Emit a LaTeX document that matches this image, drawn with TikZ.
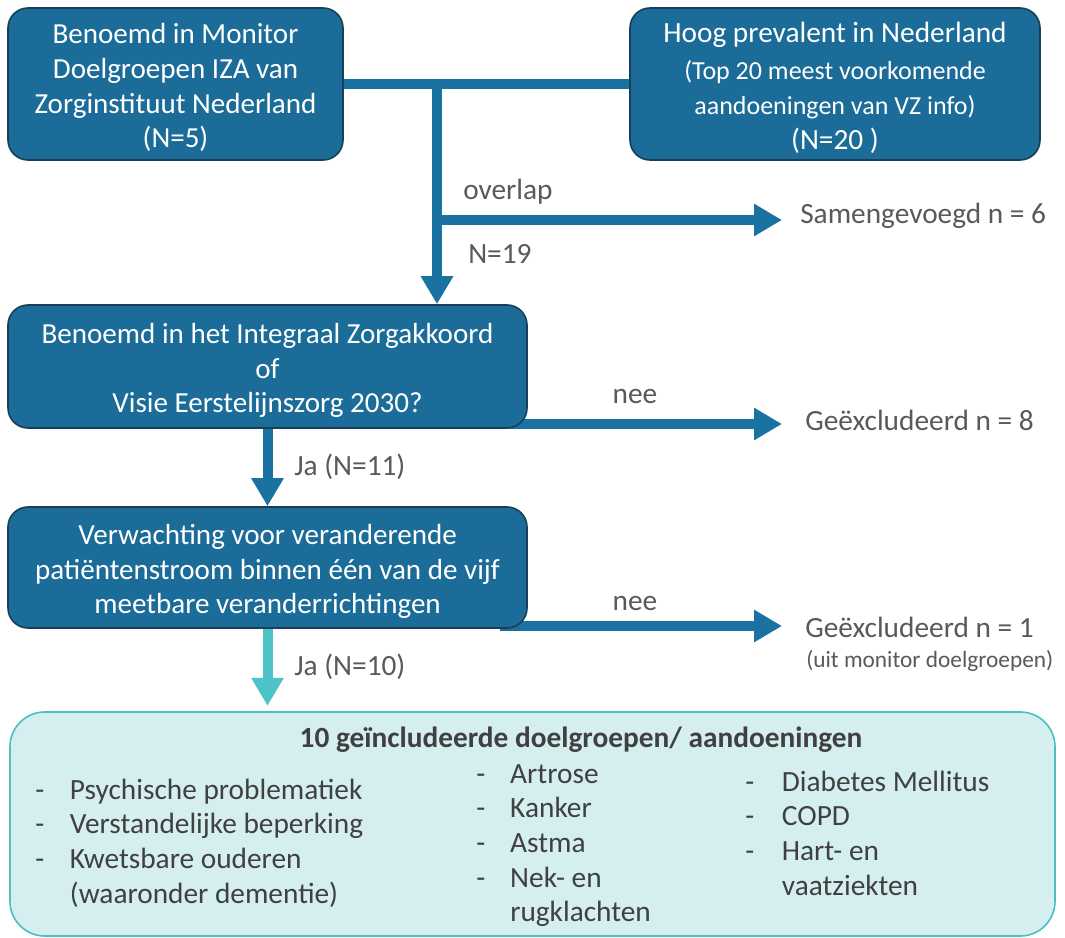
\documentclass[tikz,border=0pt]{standalone}
\usepackage{fontspec}
\setmainfont{Carlito}
\usetikzlibrary{arrows.meta,backgrounds}
\definecolor{boxblue}{HTML}{1B6C98}
\definecolor{boxedge}{HTML}{173F57}
\definecolor{arrblue}{HTML}{1A72A2}
\definecolor{arrteal}{HTML}{4DC2C8}
\definecolor{lightfill}{HTML}{D5EFF1}
\definecolor{lightedge}{HTML}{4CBFC3}
\definecolor{txtgray}{HTML}{595959}
\definecolor{txtdark}{HTML}{404040}
\newcommand{\tstr}{\rule{0pt}{21pt}}
\newcommand{\subfnt}{\fontsize{19.5}{23.5}\selectfont}
\begin{document}
\begin{tikzpicture}[x=0.75pt,y=-0.75pt,
  darkbox/.style={draw=boxedge, line width=1.2pt, fill=boxblue, rounded corners=15pt,
    text=white, align=center, inner sep=0pt, font=\fontsize{21.8}{26}\selectfont},
  conn/.style={draw=arrblue, line width=7.5pt},
  arr/.style={conn, -{Triangle[width=23pt,length=21pt]}},
  arrlight/.style={draw=arrteal, line width=7.5pt, -{Triangle[width=23pt,length=21pt]}},
  lbl/.style={text=txtgray, font=\fontsize{22}{26}\selectfont, inner sep=0pt},
  smalllbl/.style={text=txtgray, font=\fontsize{17.5}{20}\selectfont, inner sep=0pt},
  listcol/.style={text=txtdark, font=\fontsize{22}{26}\selectfont, inner sep=0pt, anchor=base west},
]
\useasboundingbox (0,0) rectangle (1065,938);

% boxes
\node[darkbox, minimum width=251.25pt, minimum height=114pt] (box1) at (175.5,84)
  {\tstr Benoemd in Monitor\\Doelgroepen IZA van\\Zorginstituut Nederland\\(N=5)};
\node[darkbox, minimum width=307.5pt, minimum height=114pt] (box2) at (835,84)
  {\fontsize{22}{26}\selectfont \rule{0pt}{21pt}Hoog prevalent in Nederland\\[2pt]
   \subfnt (Top 20 meest voorkomende\\
   \subfnt aandoeningen van VZ info)\\
   \fontsize{22}{24}\selectfont (N=20 )};
\node[darkbox, minimum width=389.25pt, minimum height=92.25pt] (box3) at (267.5,366.5)
  {\tstr Benoemd in het Integraal Zorgakkoord\\of\\Visie Eerstelijnszorg 2030?};
\node[darkbox, minimum width=389.25pt, minimum height=90.75pt] (box4) at (267.5,567.5)
  {\tstr Verwachting voor veranderende\\patiëntenstroom binnen één van de vijf\\meetbare veranderrichtingen};
\node[draw=lightedge, line width=1.2pt, fill=lightfill, rounded corners=26pt,
  minimum width=783.75pt, minimum height=168pt, inner sep=0pt] (box5) at (532.5,824) {};

% labels
\node[lbl, anchor=west] (overlap) at (463,192) {overlap};
\node[lbl, anchor=west] (n19) at (468,254) {N=19};
\node[lbl, anchor=west] (samen) at (800,216) {Samengevoegd n = 6};
\node[lbl] (nee1) at (635,396) {nee};
\node[lbl, anchor=west] (excl8) at (805,420) {Geëxcludeerd n = 8};
\node[lbl, anchor=west] (ja11) at (294,467) {Ja (N=11)};
\node[lbl] (nee2) at (635,603) {nee};
\node[lbl, anchor=west] (excl1) at (805,627) {Geëxcludeerd n = 1};
\node[smalllbl, anchor=west] (uit) at (806,661) {(uit monitor doelgroepen)};
\node[lbl, anchor=west] (ja10) at (294,667) {Ja (N=10)};

% inclusion box content
\node[text=txtdark, font=\bfseries\fontsize{22}{26}\selectfont, inner sep=0pt] (title) at (581,740)
  {10 geïncludeerde doelgroepen/ aandoeningen};
\node[listcol] (col1) at (35,799) {\begin{tabular}[t]{@{}p{26pt}@{}l@{}}
  - & Psychische problematiek\\
  - & Verstandelijke beperking\\
  - & Kwetsbare ouderen\\
    & (waaronder dementie)
\end{tabular}};
\node[listcol] (col2) at (476,783) {\begin{tabular}[t]{@{}p{25.5pt}@{}l@{}}
  - & Artrose\\
  - & Kanker\\
  - & Astma\\
  - & Nek- en\\
    & rugklachten
\end{tabular}};
\node[listcol] (col3) at (745,791) {\begin{tabular}[t]{@{}p{27.5pt}@{}l@{}}
  - & Diabetes Mellitus\\
  - & COPD\\
  - & Hart- en\\
    & vaatziekten
\end{tabular}};

% connectors
\coordinate (j1) at (437,85);
\coordinate (j2) at (437,220);
\coordinate (t2) at (782,220);
\coordinate (e3) at (500,424);
\coordinate (t3) at (782,424);
\coordinate (e4) at (500,626);
\coordinate (t4) at (782,626);
\begin{pgfonlayer}{background}
\draw[conn] (box1) -- (box2);
\draw[arr] (j1) -- (j1 |- box3.north);
\draw[arr] (j2) -- (t2);
\draw[arr] (e3) -- (t3);
\draw[arr] (e4) -- (t4);
\draw[arr] (box3.south) -- (box4.north);
\draw[arrlight] (box4.south) -- ([yshift=4pt]box5.north -| box4.south);
\end{pgfonlayer}
\end{tikzpicture}
\end{document}
